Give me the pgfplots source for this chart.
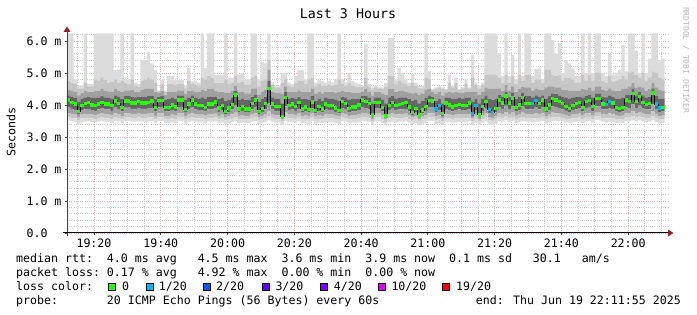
\documentclass[border=0pt]{standalone}
\usepackage{fontspec}
\setmainfont{DejaVu Sans Mono}
\usepackage{pgfplots}
\usepackage{pgfplotstable}
\pgfplotsset{compat=1.18}
\usetikzlibrary{plotmarks}
\definecolor{smA}{HTML}{DCDCDC}
\definecolor{smB}{HTML}{C6C6C6}
\definecolor{smC}{HTML}{A0A0A0}
\definecolor{smD}{HTML}{666666}
\definecolor{lossA}{HTML}{26FF00}
\definecolor{lossB}{HTML}{00B8FF}
\definecolor{lossC}{HTML}{0059FF}
\definecolor{lossD}{HTML}{5E00FF}
\definecolor{lossE}{HTML}{7E00FF}
\definecolor{lossF}{HTML}{DD00FF}
\definecolor{lossG}{HTML}{FF0000}
\definecolor{mgrid}{HTML}{EDB4B4}
\definecolor{ngrid}{HTML}{CFCFCF}
\definecolor{arrowc}{HTML}{962020}
\definecolor{wmark}{HTML}{B8B8B8}

\pgfplotstableread{
k mn lo2 lo3 lo4 med hi4 hi3 hi2 mx c
0 3.52 3.62 3.74 3.92 4.16 4.30 4.48 4.75 6.24 0
1 3.50 3.60 3.72 3.88 4.08 4.25 4.45 4.70 6.24 0
2 3.48 3.58 3.70 3.85 4.03 4.22 4.40 4.65 4.80 0
3 3.40 3.52 3.62 3.70 3.79 4.10 4.30 4.50 4.60 0
4 3.46 3.58 3.70 3.84 3.98 4.20 4.38 4.52 4.60 0
5 3.48 3.60 3.72 3.86 4.04 4.24 4.45 4.70 6.24 0
6 3.50 3.60 3.72 3.88 4.08 4.26 4.42 4.58 4.65 0
7 3.47 3.58 3.70 3.84 4.00 4.22 4.40 4.58 4.65 0
8 3.45 3.56 3.68 3.82 3.98 4.22 4.45 4.80 6.24 0
9 3.48 3.60 3.72 3.86 4.03 4.24 4.45 4.75 6.24 0
10 3.50 3.62 3.74 3.90 4.08 4.28 4.50 4.85 6.24 0
11 3.48 3.60 3.72 3.86 4.03 4.24 4.45 4.78 6.24 0
12 3.47 3.58 3.70 3.86 4.03 4.22 4.42 4.70 6.24 0
13 3.45 3.56 3.68 3.82 3.98 4.20 4.40 4.72 6.24 0
14 3.50 3.62 3.74 3.92 4.13 4.30 4.50 4.80 5.10 0
15 3.48 3.60 3.72 3.88 4.05 4.25 4.45 4.70 5.10 0
16 3.44 3.55 3.66 3.80 3.93 4.18 4.40 4.75 6.24 0
17 3.50 3.62 3.74 3.92 4.13 4.28 4.46 4.68 4.80 0
18 3.50 3.62 3.74 3.92 4.13 4.28 4.46 4.65 4.80 0
19 3.48 3.60 3.72 3.88 4.06 4.26 4.48 4.80 6.24 0
20 3.48 3.60 3.72 3.88 4.06 4.24 4.42 4.60 4.70 0
21 3.49 3.61 3.73 3.90 4.10 4.26 4.42 4.58 4.65 0
22 3.48 3.60 3.72 3.88 4.06 4.26 4.48 4.75 5.40 0
23 3.48 3.60 3.72 3.88 4.06 4.26 4.50 4.80 5.40 0
24 3.49 3.61 3.73 3.89 4.08 4.28 4.52 4.85 5.66 0
25 3.50 3.62 3.74 3.91 4.12 4.28 4.50 4.80 5.30 0
26 3.44 3.55 3.66 3.80 3.93 4.18 4.40 4.70 5.10 0
27 3.50 3.62 3.74 3.92 4.14 4.26 4.38 4.44 4.45 0
28 3.50 3.62 3.74 3.92 4.14 4.28 4.45 4.65 4.80 0
29 3.44 3.55 3.66 3.80 3.93 4.15 4.32 4.42 4.45 0
30 3.44 3.55 3.66 3.80 3.93 4.18 4.40 4.65 4.90 0
31 3.46 3.58 3.70 3.84 4.00 4.22 4.42 4.65 4.90 0
32 3.44 3.56 3.67 3.80 3.94 4.18 4.40 4.62 4.78 0
33 3.50 3.62 3.74 3.94 4.16 4.30 4.46 4.65 4.78 0
34 3.50 3.62 3.74 3.94 4.16 4.30 4.46 4.65 4.78 0
35 3.42 3.54 3.64 3.76 3.86 4.15 4.35 4.52 4.60 0
36 3.48 3.60 3.72 3.86 4.03 4.24 4.45 4.75 5.15 0
37 3.50 3.62 3.74 3.94 4.16 4.30 4.46 4.65 4.75 0
38 3.48 3.60 3.72 3.86 4.03 4.22 4.42 4.62 4.75 0
39 3.46 3.58 3.70 3.84 3.99 4.20 4.40 4.60 4.70 0
40 3.46 3.58 3.70 3.84 3.99 4.24 4.48 4.85 6.24 0
41 3.44 3.56 3.67 3.80 3.93 4.20 4.45 4.80 5.15 0
42 3.48 3.60 3.72 3.86 4.03 4.26 4.50 4.90 6.24 0
43 3.48 3.60 3.72 3.86 4.03 4.26 4.50 4.85 6.24 0
44 3.49 3.61 3.73 3.90 4.09 4.26 4.45 4.70 4.94 0
45 3.44 3.55 3.66 3.78 3.91 4.18 4.40 4.68 4.94 0
46 3.46 3.58 3.70 3.84 3.99 4.22 4.42 4.68 4.94 0
47 3.40 3.52 3.62 3.70 3.79 4.12 4.38 4.80 6.24 0
48 3.44 3.55 3.66 3.78 3.91 4.16 4.38 4.65 4.85 0
49 3.47 3.59 3.71 3.86 4.02 4.24 4.45 4.70 4.85 0
50 3.50 3.62 3.76 3.98 4.31 4.45 4.60 4.90 6.24 0
51 3.43 3.55 3.66 3.76 3.87 4.16 4.40 4.70 4.95 0
52 3.45 3.57 3.68 3.82 3.96 4.20 4.42 4.72 4.99 0
53 3.43 3.55 3.66 3.76 3.87 4.15 4.36 4.62 4.80 0
54 3.43 3.55 3.66 3.76 3.87 4.15 4.36 4.62 4.80 0
55 3.48 3.60 3.72 3.86 4.04 4.26 4.50 4.85 6.24 0
56 3.50 3.62 3.74 3.94 4.16 4.32 4.52 4.90 6.24 0
57 3.40 3.52 3.62 3.70 3.79 4.10 4.32 4.58 4.80 0
58 3.43 3.55 3.66 3.76 3.89 4.18 4.42 4.75 5.35 0
59 3.48 3.60 3.72 3.86 4.04 4.26 4.48 4.80 5.30 0
60 3.52 3.66 3.82 4.05 4.51 4.75 5.10 5.40 6.24 0
61 3.48 3.60 3.72 3.86 4.03 4.24 4.42 4.62 4.70 0
62 3.45 3.57 3.68 3.82 3.95 4.18 4.38 4.55 4.60 0
63 3.45 3.57 3.68 3.82 3.95 4.18 4.38 4.55 4.60 0
64 3.38 3.48 3.56 3.60 3.63 4.05 4.35 4.70 5.00 0
65 3.50 3.62 3.76 3.96 4.24 4.40 4.58 4.80 5.00 0
66 3.46 3.58 3.70 3.84 3.98 4.20 4.40 4.60 4.70 0
67 3.48 3.60 3.72 3.86 4.03 4.22 4.40 4.58 4.65 0
68 3.45 3.57 3.68 3.82 3.95 4.18 4.40 4.68 4.90 0
69 3.49 3.61 3.73 3.88 4.07 4.26 4.46 4.75 5.10 0
70 3.43 3.55 3.66 3.76 3.88 4.18 4.42 4.75 5.10 0
71 3.45 3.57 3.68 3.80 3.94 4.18 4.40 4.65 4.80 0
72 3.42 3.54 3.65 3.76 3.86 4.16 4.40 4.80 6.24 0
73 3.49 3.61 3.73 3.90 4.09 4.28 4.50 4.85 6.24 0
74 3.42 3.54 3.65 3.74 3.83 4.12 4.35 4.58 4.70 0
75 3.45 3.57 3.68 3.82 3.96 4.20 4.40 4.65 4.80 0
76 3.43 3.55 3.66 3.76 3.87 4.14 4.36 4.60 4.75 0
77 3.48 3.60 3.72 3.86 4.03 4.22 4.40 4.60 4.70 0
78 3.46 3.58 3.70 3.84 3.98 4.20 4.40 4.62 4.75 0
79 3.46 3.58 3.70 3.84 3.98 4.20 4.40 4.60 4.70 0
80 3.44 3.56 3.67 3.78 3.91 4.16 4.38 4.62 4.80 0
81 3.42 3.54 3.65 3.74 3.83 4.14 4.40 4.80 6.24 0
82 3.49 3.61 3.73 3.90 4.10 4.26 4.45 4.65 4.80 0
83 3.48 3.60 3.72 3.88 4.05 4.22 4.40 4.60 4.70 0
84 3.43 3.55 3.66 3.76 3.89 4.16 4.40 4.70 5.00 0
85 3.45 3.57 3.68 3.80 3.94 4.18 4.38 4.60 4.75 0
86 3.45 3.57 3.68 3.80 3.94 4.18 4.38 4.58 4.70 0
87 3.46 3.58 3.70 3.84 4.00 4.20 4.38 4.56 4.65 0
88 3.50 3.62 3.74 3.94 4.16 4.28 4.42 4.56 4.60 0
89 3.49 3.61 3.73 3.90 4.10 4.28 4.50 4.85 5.90 0
90 3.48 3.60 3.72 3.86 4.04 4.22 4.40 4.58 4.65 0
91 3.38 3.48 3.57 3.63 3.69 4.05 4.30 4.48 4.55 0
92 3.49 3.61 3.73 3.89 4.08 4.24 4.40 4.55 4.60 0
93 3.49 3.61 3.73 3.89 4.08 4.24 4.40 4.52 4.55 0
94 3.44 3.56 3.67 3.80 3.93 4.16 4.36 4.50 4.55 0
95 3.36 3.46 3.55 3.61 3.66 4.05 4.32 4.58 4.70 0
96 3.46 3.58 3.70 3.84 3.98 4.24 4.50 4.90 6.10 0
97 3.49 3.61 3.73 3.89 4.08 4.28 4.50 4.90 6.10 0
98 3.46 3.58 3.70 3.84 3.98 4.20 4.40 4.65 4.80 0
99 3.47 3.59 3.71 3.86 4.02 4.24 4.45 4.75 5.15 0
100 3.48 3.60 3.72 3.86 4.04 4.24 4.44 4.70 5.00 0
101 3.49 3.61 3.73 3.88 4.07 4.24 4.42 4.65 4.80 0
102 3.45 3.57 3.68 3.80 3.94 4.18 4.38 4.60 4.70 0
103 3.40 3.51 3.61 3.68 3.76 4.12 4.36 4.68 4.94 0
104 3.43 3.55 3.66 3.76 3.89 4.16 4.38 4.60 4.70 0
105 3.38 3.48 3.57 3.63 3.69 4.05 4.32 4.52 4.60 0
106 3.42 3.54 3.64 3.74 3.84 4.12 4.36 4.52 4.60 0
107 3.45 3.57 3.68 3.82 3.96 4.22 4.48 4.85 6.24 0
108 3.50 3.62 3.74 3.92 4.14 4.30 4.50 4.80 5.05 0
109 3.50 3.62 3.74 3.92 4.12 4.26 4.40 4.48 4.50 0
110 3.40 3.52 3.64 3.76 3.87 4.12 4.34 4.50 4.55 1
111 3.42 3.55 3.68 3.84 3.99 4.20 4.40 4.55 4.60 1
112 3.38 3.49 3.59 3.66 3.73 4.05 4.30 4.50 4.55 0
113 3.48 3.60 3.72 3.88 4.06 4.22 4.38 4.48 4.50 0
114 3.46 3.58 3.70 3.84 4.00 4.22 4.42 4.70 4.95 0
115 3.45 3.57 3.68 3.80 3.94 4.18 4.38 4.55 4.60 0
116 3.46 3.58 3.70 3.84 3.98 4.20 4.42 4.68 4.85 0
117 3.47 3.59 3.71 3.86 4.02 4.22 4.38 4.48 4.50 0
118 3.46 3.58 3.70 3.84 3.98 4.20 4.38 4.52 4.55 0
119 3.46 3.58 3.70 3.84 3.99 4.22 4.42 4.65 4.80 0
120 3.48 3.60 3.72 3.88 4.06 4.24 4.40 4.52 4.55 0
121 3.36 3.48 3.58 3.66 3.74 4.10 4.40 4.85 5.56 1
122 3.44 3.56 3.68 3.84 3.98 4.20 4.40 4.62 4.70 1
123 3.38 3.48 3.57 3.63 3.69 4.05 4.32 4.52 4.60 0
124 3.45 3.57 3.68 3.82 3.96 4.20 4.42 4.62 4.70 0
125 3.49 3.61 3.73 3.90 4.10 4.30 4.55 4.95 6.24 0
126 3.40 3.52 3.62 3.74 3.86 4.18 4.50 4.95 6.24 1
127 3.38 3.50 3.60 3.70 3.77 4.15 4.50 4.95 6.24 1
128 3.42 3.54 3.65 3.76 3.89 4.20 4.50 4.95 6.24 0
129 3.50 3.62 3.74 3.94 4.16 4.32 4.52 4.85 5.60 0
130 3.48 3.60 3.72 3.88 4.06 4.26 4.45 4.70 4.90 0
131 3.52 3.64 3.78 3.98 4.28 4.42 4.62 4.95 6.24 0
132 3.48 3.60 3.72 3.88 4.06 4.26 4.45 4.70 4.90 0
133 3.50 3.62 3.76 3.96 4.22 4.38 4.58 4.90 5.56 0
134 3.44 3.56 3.67 3.80 3.92 4.18 4.40 4.65 4.80 0
135 3.46 3.58 3.70 3.84 4.00 4.26 4.50 4.95 6.24 0
136 3.50 3.62 3.76 3.96 4.24 4.38 4.56 4.75 4.90 0
137 3.48 3.60 3.72 3.86 4.04 4.28 4.55 4.95 6.24 0
138 3.48 3.60 3.72 3.86 4.04 4.28 4.55 4.95 6.24 0
139 3.46 3.58 3.70 3.86 4.05 4.24 4.45 4.70 4.90 1
140 3.48 3.60 3.74 3.92 4.14 4.30 4.50 4.80 5.14 1
141 3.48 3.60 3.72 3.86 4.04 4.26 4.48 4.80 5.14 0
142 3.50 3.62 3.74 3.94 4.16 4.30 4.48 4.70 4.80 0
143 3.42 3.54 3.65 3.76 3.87 4.20 4.55 5.10 6.24 0
144 3.46 3.58 3.70 3.84 4.00 4.28 4.58 5.10 6.24 0
145 3.50 3.62 3.76 3.96 4.20 4.36 4.58 4.95 6.03 0
146 3.50 3.62 3.74 3.94 4.16 4.34 4.55 4.90 5.60 0
147 3.49 3.61 3.73 3.90 4.10 4.30 4.55 4.95 5.93 0
148 3.48 3.60 3.72 3.86 4.04 4.26 4.48 4.75 5.00 0
149 3.45 3.57 3.68 3.82 3.96 4.22 4.48 4.85 5.40 0
150 3.43 3.55 3.66 3.76 3.89 4.20 4.45 4.85 5.30 0
151 3.46 3.58 3.70 3.84 3.98 4.22 4.45 4.80 5.14 0
152 3.48 3.60 3.72 3.86 4.04 4.26 4.45 4.70 4.90 0
153 3.49 3.61 3.73 3.89 4.08 4.26 4.45 4.70 4.90 0
154 3.44 3.56 3.67 3.80 3.93 4.22 4.50 4.95 6.24 0
155 3.49 3.61 3.73 3.90 4.10 4.28 4.48 4.75 5.00 0
156 3.50 3.62 3.74 3.92 4.14 4.32 4.55 4.95 6.24 0
157 3.45 3.57 3.68 3.82 3.96 4.22 4.45 4.75 5.00 0
158 3.52 3.64 3.76 3.96 4.20 4.36 4.58 5.00 6.24 0
159 3.52 3.64 3.76 3.96 4.20 4.36 4.58 5.00 6.24 0
160 3.48 3.60 3.72 3.86 4.03 4.26 4.48 4.75 5.00 0
161 3.46 3.58 3.70 3.86 4.02 4.24 4.45 4.70 4.90 1
162 3.48 3.60 3.74 3.90 4.10 4.30 4.52 4.90 5.60 1
163 3.48 3.60 3.72 3.88 4.06 4.26 4.46 4.72 4.95 0
164 3.44 3.56 3.67 3.80 3.93 4.20 4.45 4.75 5.00 0
165 3.43 3.55 3.66 3.76 3.89 4.20 4.45 4.80 5.10 0
166 3.44 3.56 3.67 3.80 3.93 4.22 4.50 4.90 5.87 0
167 3.50 3.62 3.74 3.94 4.16 4.32 4.52 4.80 5.05 0
168 3.49 3.61 3.73 3.90 4.10 4.32 4.58 5.00 6.24 0
169 3.52 3.66 3.80 4.02 4.35 4.50 4.68 5.05 6.24 0
170 3.49 3.61 3.73 3.90 4.10 4.30 4.55 4.95 5.70 0
171 3.52 3.64 3.78 3.98 4.27 4.42 4.58 4.85 5.00 0
172 3.49 3.61 3.73 3.89 4.08 4.30 4.55 5.00 6.24 0
173 3.47 3.59 3.71 3.86 4.02 4.24 4.45 4.75 5.00 0
174 3.48 3.60 3.72 3.86 4.04 4.26 4.50 4.85 5.45 0
175 3.52 3.66 3.80 4.02 4.38 4.52 4.70 5.05 6.24 0
176 3.46 3.58 3.72 3.88 4.03 4.28 4.55 5.00 6.24 1
177 3.42 3.54 3.66 3.78 3.90 4.20 4.48 4.85 5.40 1
178 3.44 3.56 3.67 3.80 3.93 4.20 4.45 4.80 5.45 0
179 3.44 3.56 3.67 3.80 3.93 4.20 4.45 4.80 5.45 9
}\data

\pgfplotsset{
  smokeaxis/.style={
    at={(67pt,82pt)}, anchor=south west,
    scale only axis, width=601pt, height=200pt,
    xmin=0, xmax=180, ymin=0, ymax=6.25,
  },
}

\begin{document}
\begin{tikzpicture}
\path[use as bounding box] (0pt,0pt) rectangle (697pt,315pt);
\begin{axis}[
  smokeaxis,
  axis line style={draw=none},
  xtick pos=bottom, ytick pos=left,
  xtick={8.083,28.083,48.083,68.083,88.083,108.083,128.083,148.083,168.083},
  xticklabels={19:20,19:40,20:00,20:20,20:40,21:00,21:20,21:40,22:00},
  minor xtick={3.083,13.083,18.083,23.083,33.083,38.083,43.083,53.083,58.083,63.083,73.083,78.083,83.083,93.083,98.083,103.083,113.083,118.083,123.083,133.083,138.083,143.083,153.083,158.083,163.083,173.083,178.083},
  ytick={0,1,2,3,4,5,6},
  yticklabels={0.0\phantom{ m},1.0 m,2.0 m,3.0 m,4.0 m,5.0 m,6.0 m},
  minor ytick={0.2,0.4,0.6,0.8,1.2,1.4,1.6,1.8,2.2,2.4,2.6,2.8,3.2,3.4,3.6,3.8,4.2,4.4,4.6,4.8,5.2,5.4,5.6,5.8,6.2},
  grid=both,
  major grid style={draw=mgrid, line width=0.9pt, dash pattern=on 1pt off 1.2pt},
  minor grid style={draw=ngrid, line width=0.9pt, dash pattern=on 1pt off 1.2pt},
  tick align=outside, major tick length=2pt, minor tick length=0pt,
  tick style={draw=black!70, line width=0.8pt},
  ticklabel style={font=\fontsize{11.6}{13}\selectfont},
  stack plots=y,
]
\addplot[const plot, draw=none, fill=none] table[x=k,y=mn]{\data};
\addplot[const plot, draw=none, fill=smA] table[x=k,y expr=\thisrow{lo2}-\thisrow{mn}]{\data} \closedcycle;
\addplot[const plot, draw=none, fill=smB] table[x=k,y expr=\thisrow{lo3}-\thisrow{lo2}]{\data} \closedcycle;
\addplot[const plot, draw=none, fill=smC] table[x=k,y expr=\thisrow{lo4}-\thisrow{lo3}]{\data} \closedcycle;
\addplot[const plot, draw=none, fill=smD] table[x=k,y expr=\thisrow{hi4}-\thisrow{lo4}]{\data} \closedcycle;
\addplot[const plot, draw=none, fill=smC] table[x=k,y expr=\thisrow{hi3}-\thisrow{hi4}]{\data} \closedcycle;
\addplot[const plot, draw=none, fill=smB] table[x=k,y expr=\thisrow{hi2}-\thisrow{hi3}]{\data} \closedcycle;
\addplot[const plot, draw=none, fill=smA] table[x=k,y expr=\thisrow{mx}-\thisrow{hi2}]{\data} \closedcycle;
\end{axis}
\begin{axis}[smokeaxis, hide axis]
\addplot[const plot, black, line width=0.9pt] table[x=k,y=med]{\data};
\addplot[only marks, mark=-, mark size=1.67pt, mark options={line width=3.4pt, draw=lossA}]
  table[x expr=\thisrow{k}+0.5, y=med, restrict expr to domain={\thisrow{c}}{0:0}]{\data};
\addplot[only marks, mark=-, mark size=1.67pt, mark options={line width=3.4pt, draw=lossB}]
  table[x expr=\thisrow{k}+0.5, y=med, restrict expr to domain={\thisrow{c}}{1:1}]{\data};
\end{axis}
\begin{scope}[x=1pt,y=1pt]
\draw[black!75, line width=1pt] (67,79) -- (67,284);
\fill[arrowc] (67,288.5) -- (63.5,283) -- (70.5,283) -- cycle;
\draw[black, line width=1pt] (63,82) -- (668,82);
\fill[arrowc] (673.5,82) -- (668,78.5) -- (668,85.5) -- cycle;
\node[font=\fontsize{13.3}{15}\selectfont] at (348,301) {Last 3 Hours};
\node[font=\fontsize{11.6}{13}\selectfont, rotate=90] at (11,183) {Seconds};
\node[font=\fontsize{8}{9}\selectfont, text=wmark, rotate=-90] at (686,255) {RRDTOOL / TOBI OETIKER};
\begin{scope}[every node/.style={font=\fontsize{11.6}{13}\selectfont, inner sep=0pt}]
\node[anchor=base west] at (16,52) {median rtt:~~4.0 ms avg~~~4.5 ms max~~3.6 ms min~~3.9 ms now~~0.1 ms sd~~~30.1~~~am/s};
\node[anchor=base west] at (16,38) {packet loss:~0.17 \% avg~~~4.92 \% max~~0.00 \% min~~0.00 \% now};
\node[anchor=base west] at (16,24.7) {loss color:};
\node[anchor=base west] at (16,10) {probe:~~~~~~~20 ICMP Echo Pings (56 Bytes) every 60s};
\node[anchor=base east] at (681,10) {end: Thu Jun 19 22:11:55 2025};
\draw[black, line width=0.8pt, fill=lossA] (108.5,25) rectangle ++(7,7);
\node[anchor=base west] at (122,24.7) {0};
\draw[black, line width=0.8pt, fill=lossB] (146.2,25) rectangle ++(7,7);
\node[anchor=base west] at (158.7,24.7) {1/20};
\draw[black, line width=0.8pt, fill=lossC] (203.5,25) rectangle ++(7,7);
\node[anchor=base west] at (216,24.7) {2/20};
\draw[black, line width=0.8pt, fill=lossD] (262,25) rectangle ++(7,7);
\node[anchor=base west] at (275.3,24.7) {3/20};
\draw[black, line width=0.8pt, fill=lossE] (320.3,25) rectangle ++(7,7);
\node[anchor=base west] at (333.6,24.7) {4/20};
\draw[black, line width=0.8pt, fill=lossF] (378,25) rectangle ++(7,7);
\node[anchor=base west] at (391.3,24.7) {10/20};
\draw[black, line width=0.8pt, fill=lossG] (442,25) rectangle ++(7,7);
\node[anchor=base west] at (456,24.7) {19/20};
\end{scope}
\end{scope}
\end{tikzpicture}
\end{document}
